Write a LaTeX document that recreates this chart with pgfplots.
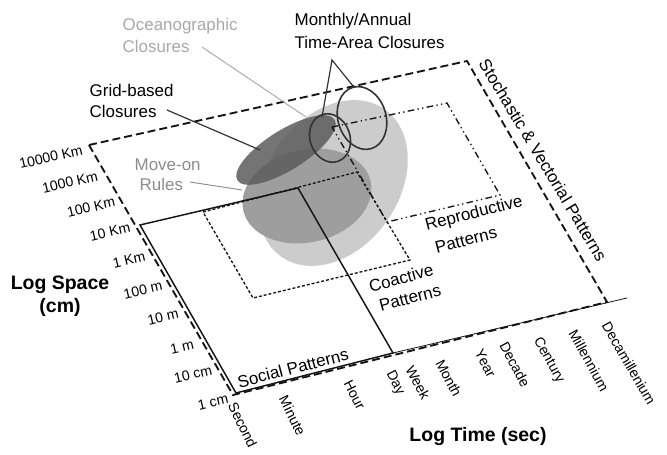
\documentclass[border=0pt]{standalone}
\usepackage{fontspec}
\setmainfont{Liberation Sans}
\usepackage{pgfplots}
\pgfplotsset{compat=1.18}

\definecolor{ellLight}{gray}{0.80}
\definecolor{ellMid}{gray}{0.62}
\definecolor{ellDark}{gray}{0.36}
\definecolor{ink}{gray}{0.08}
\definecolor{lineDark}{gray}{0.20}
\definecolor{txtLight}{gray}{0.66}
\definecolor{txtMid}{gray}{0.55}

\newcommand{\lbl}{\fontsize{12.7}{15}\selectfont}
\newcommand{\tck}{\fontsize{10.6}{12}\selectfont}
\newcommand{\ttl}{\fontsize{14.6}{17}\selectfont\bfseries}

\begin{document}
\begin{tikzpicture}
\begin{axis}[
  width=500.25pt, height=336pt, scale only axis,
  xmin=0, xmax=667, ymin=0, ymax=448, y dir=reverse,
  hide axis, clip=false,
  every node/.append style={inner sep=0pt, text=ink},
]
% page frame
\addplot[draw=none] coordinates {(0,0) (667,448)};

% shaded domains
\fill[ellLight] (axis cs:333,183) circle [x radius=67.5pt, y radius=49.5pt, rotate=55];
\fill[ellMid] (axis cs:307,196) circle [x radius=49pt, y radius=34.7pt, rotate=13];
\fill[ellDark, opacity=0.85] (axis cs:286,150) circle [x radius=43pt, y radius=15pt, rotate=32];

% Stochastic & Vectorial (outer, long dash)
\addplot[ink, line width=1.4pt, dash pattern=on 6pt off 3pt] coordinates {
  (89,145) (467,61) (607,302) (233,395)
} -- cycle;

% Social patterns (solid)
\addplot[ink, line width=1.1pt] coordinates {
  (140,225) (298,188) (393,353) (236,393)
} -- cycle;
% time axis continuation
\addplot[ink, line width=0.6pt] coordinates {(393,353) (627,298)};

% Coactive patterns (short dash)
\addplot[ink, line width=1pt, dash pattern=on 2.2pt off 1.5pt] coordinates {
  (203,212) (357,172) (410,260) (253,298)
} -- cycle;

% Reproductive patterns (dash dot dot)
\addplot[ink, line width=1pt, dash pattern=on 5pt off 2.5pt on 1pt off 2.5pt on 1pt off 2.5pt] coordinates {
  (332,127) (447,103) (500,195) (387,222)
} -- cycle;

% monthly / annual closures
\draw[lineDark, line width=1.2pt] (axis cs:330,138) circle [x radius=15pt, y radius=18.5pt, rotate=19];
\draw[lineDark, line width=1.2pt] (axis cs:362,118) circle [x radius=18pt, y radius=24pt, rotate=17];

% leader lines
\addplot[lineDark, line width=0.9pt] coordinates {(322,117) (332,60) (353,86)};
\addplot[txtLight, line width=0.7pt] coordinates {(202,47) (306,117)};
\addplot[lineDark, line width=0.9pt] coordinates {(167,110) (260,150)};
\addplot[txtMid, line width=0.7pt] coordinates {(190,182) (242,190)};

% labels
\node[anchor=west, text=txtLight] at (axis cs:118,26) {\lbl Oceanographic};
\node[anchor=west, text=txtLight] at (axis cs:118,46) {\lbl Closures};
\node[anchor=west] at (axis cs:290,21) {\lbl Monthly/Annual};
\node[anchor=west] at (axis cs:290,42) {\lbl Time-Area Closures};
\node[anchor=west] at (axis cs:85,90) {\lbl Grid-based};
\node[anchor=west] at (axis cs:85,111) {\lbl Closures};
\node[anchor=west, text=txtMid] at (axis cs:130,165) {\lbl Move-on};
\node[anchor=west, text=txtMid] at (axis cs:135,184) {\lbl Rules};

\node[rotate=14.5] at (axis cs:474,214) {\lbl Reproductive};
\node[rotate=14.5] at (axis cs:466,240) {\lbl Patterns};
\node[rotate=15] at (axis cs:401,278) {\lbl Coactive};
\node[rotate=15] at (axis cs:410,298) {\lbl Patterns};
\node[rotate=14.5] at (axis cs:293,368) {\lbl Social Patterns};
\node[rotate=-59] at (axis cs:543,160) {\lbl Stochastic \& Vectorial Patterns};

\node at (axis cs:60,285) {\ttl Log Space};
\node at (axis cs:60,307) {\ttl (cm)};
\node at (axis cs:478,437) {\ttl Log Time (sec)};

% space ticks
\node[rotate=13] at (axis cs:51,157) {\tck 10000 Km};
\node[rotate=13] at (axis cs:70,182) {\tck 1000 Km};
\node[rotate=13] at (axis cs:91,207) {\tck 100 Km};
\node[rotate=13] at (axis cs:110,232) {\tck 10 Km};
\node[rotate=13] at (axis cs:129,260) {\tck 1 Km};
\node[rotate=13] at (axis cs:143,290) {\tck 100 m};
\node[rotate=13] at (axis cs:163,317) {\tck 10 m};
\node[rotate=13] at (axis cs:182,347) {\tck 1 m};
\node[rotate=13] at (axis cs:193,374) {\tck 10 cm};
\node[rotate=13] at (axis cs:213,402) {\tck 1 cm};

% time ticks
\node[rotate=-64, anchor=north west] at (axis cs:239,395) {\tck Second};
\node[rotate=-64, anchor=north west] at (axis cs:290,388) {\tck Minute};
\node[rotate=-63, anchor=north west] at (axis cs:354,373) {\tck Hour};
\node[rotate=-63, anchor=north west] at (axis cs:397,363) {\tck Day};
\node[rotate=-62, anchor=north west] at (axis cs:416,358) {\tck Week};
\node[rotate=-62, anchor=north west] at (axis cs:446,352) {\tck Month};
\node[rotate=-62, anchor=north west] at (axis cs:485,342) {\tck Year};
\node[rotate=-62, anchor=north west] at (axis cs:510,334) {\tck Decade};
\node[rotate=-61, anchor=north west] at (axis cs:544,329) {\tck Century};
\node[rotate=-61, anchor=north west] at (axis cs:579,322) {\tck Millennium};
\node[rotate=-60, anchor=north west] at (axis cs:612,314) {\tck Decamillenium};
\end{axis}
\end{tikzpicture}
\end{document}
